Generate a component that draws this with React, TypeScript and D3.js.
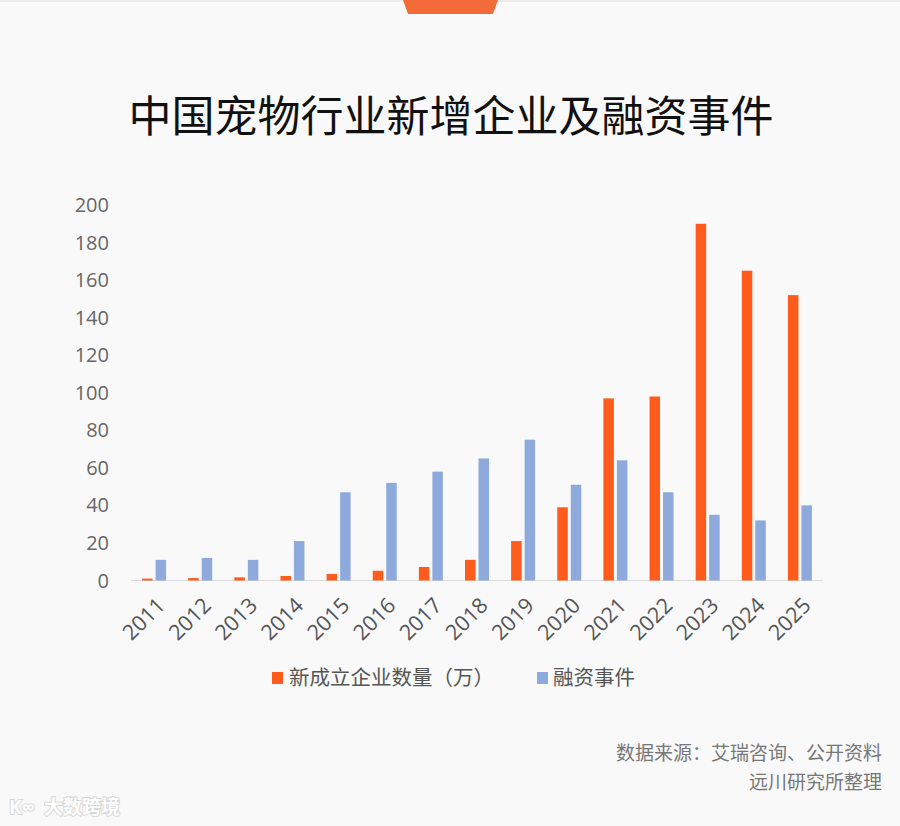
import { useEffect } from 'react'
import * as d3 from 'd3'

const years = ['2011', '2012', '2013', '2014', '2015', '2016', '2017', '2018', '2019', '2020', '2021', '2022', '2023', '2024', '2025']
const newCompanies = [1, 1.3, 1.7, 2.4, 3.5, 5.2, 7.2, 11, 21, 39, 97, 98, 190, 165, 152]
const financing = [11, 12, 11, 21, 47, 52, 58, 65, 75, 51, 64, 47, 35, 32, 40]
const yTicks = [0, 20, 40, 60, 80, 100, 120, 140, 160, 180, 200]
const seriesNames = ['新成立企业数量（万）', '融资事件']
const seriesColors = ['#ff5b1c', '#8eaadc']

const W = 900
const H = 826
const m = { left: 131, right: 77, top: 205, bottom: 246 }
const latin = 'Open Sans, Noto Sans, sans-serif'
const cjk = '"Noto Sans CJK SC", "Noto Sans", sans-serif'

export default function App() {
  useEffect(() => {
    document.body.style.margin = '0'
    document.body.style.background = '#f9f9f9'
  }, [])

  const x = d3.scaleBand<string>().domain(years).range([m.left, W - m.right])
  const y = d3.scaleLinear().domain([0, 200]).range([H - m.bottom + 0.5, m.top])
  const bw = 10.5
  const gap = 3
  const series = [newCompanies, financing]

  return (
    <svg width={W} height={H} style={{ display: 'block', background: '#f9f9f9' }}>
      <rect x={0} y={0} width={W} height={2} fill="#ececec" />
      <path d="M403,0 L498,0 L493,14 L408,14 Z" fill="#f26b38" />
      <text x={451} y={132} textAnchor="middle" fontFamily={cjk} fontSize={43} fill="#111" fontWeight={400}>
        中国宠物行业新增企业及融资事件
      </text>

      {yTicks.map(t => (
        <text key={t} x={109} y={y(t)} dy="0.35em" textAnchor="end" fontFamily={latin} fontSize={20} fill="#666">
          {t}
        </text>
      ))}

      <line x1={m.left} x2={W - m.right} y1={y(0)} y2={y(0)} stroke="#d9d9d9" strokeWidth={1.2} />

      {series.map((vals, si) =>
        vals.map((v, i) => {
          const cx = (x(years[i]) ?? 0) + x.bandwidth() / 2
          const bx = si === 0 ? cx - gap / 2 - bw : cx + gap / 2
          return (
            <rect key={`${si}-${i}`} x={bx} y={y(v)} width={bw} height={y(0) - y(v)} fill={seriesColors[si]} />
          )
        })
      )}

      {years.map(yr => {
        const cx = (x(yr) ?? 0) + x.bandwidth() / 2 + 7
        const cy = y(0) + 21
        return (
          <text key={yr} transform={`translate(${cx},${cy}) rotate(-45)`} textAnchor="end" dy="0.35em"
            fontFamily={latin} fontSize={21.5} fill="#555">
            {yr}
          </text>
        )
      })}

      <rect x={272} y={672} width={11} height={12} fill={seriesColors[0]} />
      <text x={289} y={678} dy="0.35em" fontFamily={cjk} fontSize={20.5} fill="#555">{seriesNames[0]}</text>
      <rect x={537} y={672} width={11} height={12} fill={seriesColors[1]} />
      <text x={553} y={678} dy="0.35em" fontFamily={cjk} fontSize={20.5} fill="#555">{seriesNames[1]}</text>

      <text x={882} y={753} dy="0.35em" textAnchor="end" fontFamily={cjk} fontSize={19} fill="#777">
        数据来源：艾瑞咨询、公开资料
      </text>
      <text x={882} y={782} dy="0.35em" textAnchor="end" fontFamily={cjk} fontSize={19} fill="#777">
        远川研究所整理
      </text>

      <text x={44} y={807} dy="0.35em" fontFamily={cjk} fontSize={19} fill="#fff" stroke="#d8d8d8" strokeWidth={2}
        paintOrder="stroke" fontWeight={700}>
        大数跨境
      </text>
      <text x={9} y={807} dy="0.35em" fontFamily={latin} fontSize={19} fill="#fff" stroke="#d8d8d8" strokeWidth={2}
        paintOrder="stroke" fontWeight={700}>
        K∞
      </text>
    </svg>
  )
}
